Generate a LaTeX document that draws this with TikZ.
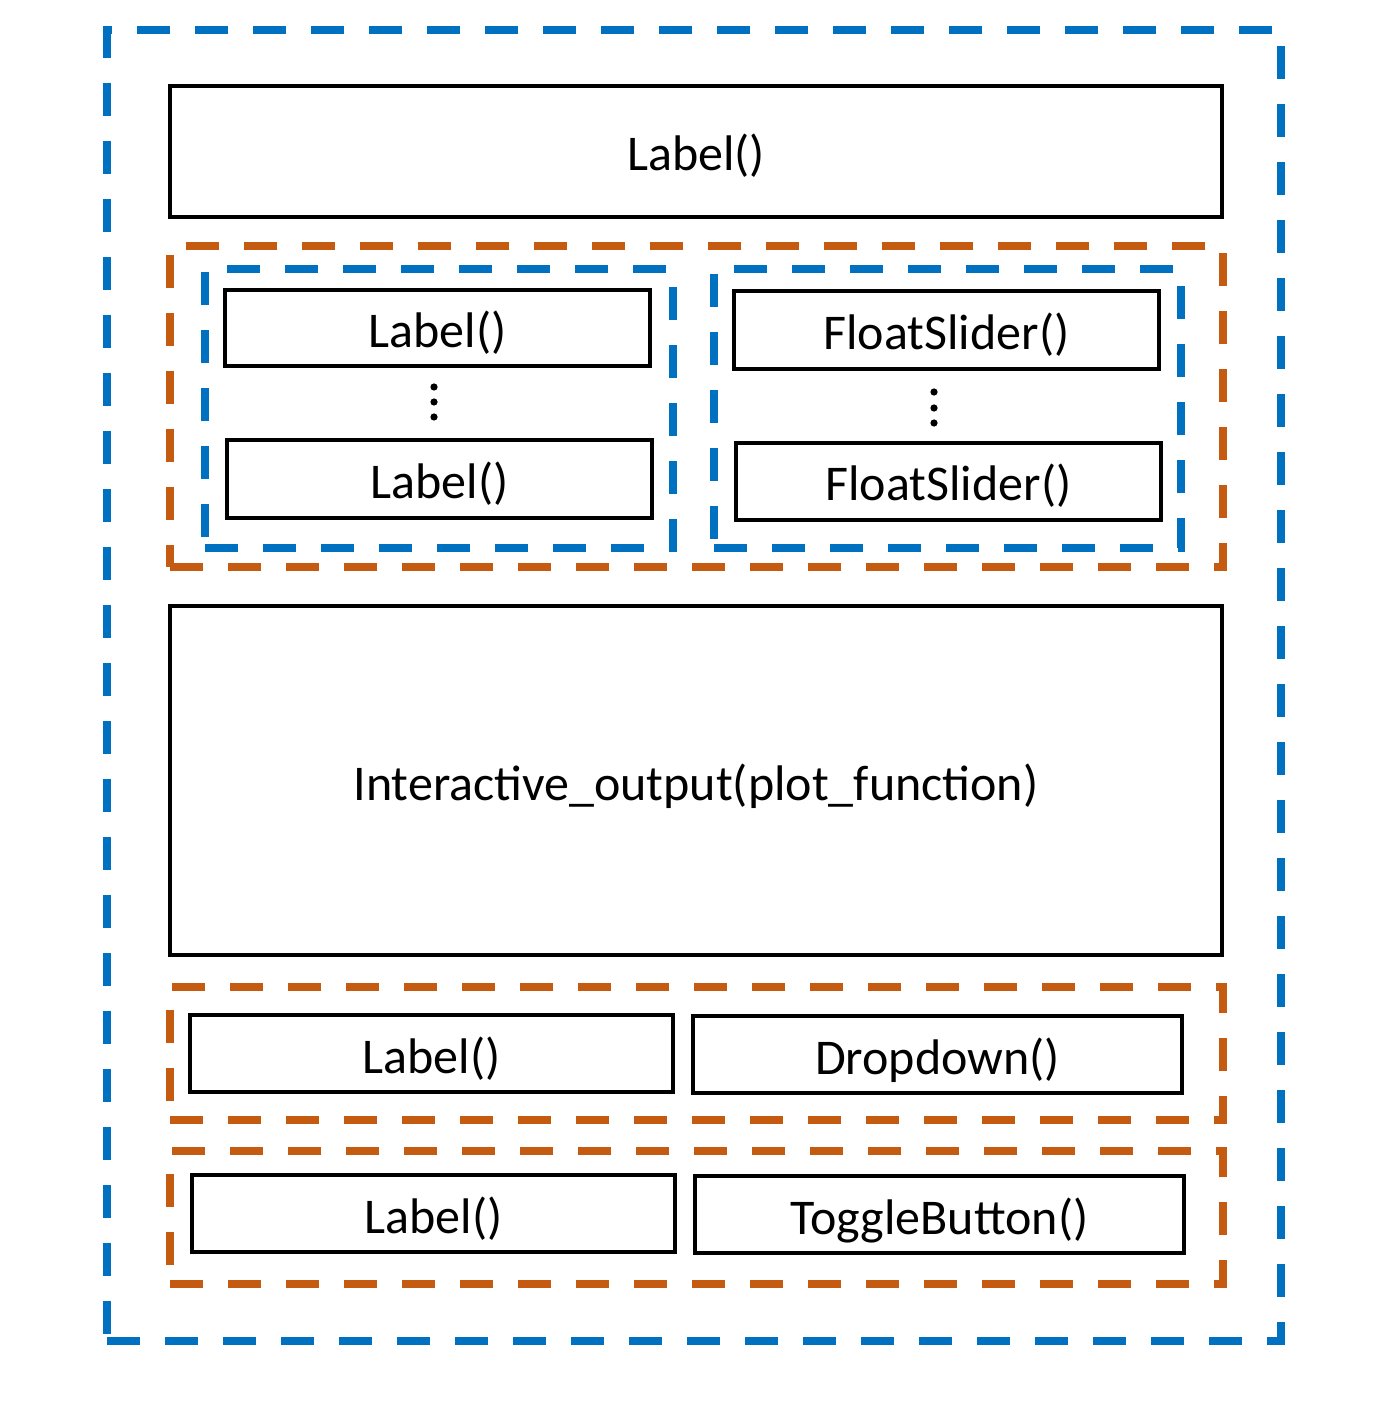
\documentclass[tikz,border=0pt]{standalone}
\usepackage{fontspec}
\setmainfont{Carlito}
\definecolor{dblue}{HTML}{0070C0}
\definecolor{dorange}{HTML}{C55A11}
\begin{document}
\begin{tikzpicture}[x=0.5pt,y=-0.5pt,
  box/.style={draw=black, line width=1.75pt, inner sep=0pt, font=\fontsize{25}{30}\selectfont, text height=22pt, text depth=2.5pt},
  grp/.style={rectangle, line width=4pt, dash pattern=on 16.5pt off 12.5pt, inner sep=0pt},
  bgroup/.style={grp, draw=dblue},
  ogroup/.style={grp, draw=dorange},
  vdot/.style={circle, fill=black, draw=none, inner sep=0pt, minimum size=3.6pt}]
\useasboundingbox (0,0) rectangle (1384,1416);
% outer container
\node[bgroup, minimum width=587pt, minimum height=655.5pt] (outer) at (694,685.5) {};
% top label
\node[box, minimum width=526pt, minimum height=65.5pt] (toplabel) at (696,151.5) {Label()};
% group 1
\node[ogroup, minimum width=526.5pt, minimum height=160.5pt] (g1) at (696.5,406.5) {};
\node[bgroup, minimum width=234pt, minimum height=139.5pt] (g1l) at (439,408.5) {};
\node[bgroup, minimum width=233.5pt, minimum height=139.5pt] (g1r) at (947.5,408.5) {};
\node[box, minimum width=212.5pt, minimum height=38pt] (l1) at (437.5,328) {Label()};
\node[box, minimum width=212.5pt, minimum height=39pt] (l2) at (439.5,479) {Label()};
\node[vdot] (dl1) at (434,387) {};
\node[vdot] (dl2) at (434,402) {};
\node[vdot] (dl3) at (434,417) {};
\node[box, minimum width=212.5pt, minimum height=39pt] (f1) at (946.5,330) {FloatSlider()};
\node[box, minimum width=212.5pt, minimum height=38.5pt] (f2) at (948.5,481.5) {FloatSlider()};
\node[vdot] (dr1) at (934,392) {};
\node[vdot] (dr2) at (934,408) {};
\node[vdot] (dr3) at (934,423) {};
% interactive output
\node[box, minimum width=526pt, minimum height=174.5pt] (io) at (696,780.5) {Interactive\_output(plot\_function)};
% group 2
\node[ogroup, minimum width=526.5pt, minimum height=66.5pt] (g2) at (696.5,1053.5) {};
\node[box, minimum width=241.5pt, minimum height=38.5pt] (l3) at (431.5,1053.5) {Label()};
\node[box, minimum width=244.5pt, minimum height=38.5pt] (dd) at (937.5,1054.5) {Dropdown()};
% group 3
\node[ogroup, minimum width=526.5pt, minimum height=66.5pt] (g3) at (696.5,1217.5) {};
\node[box, minimum width=241.5pt, minimum height=38.5pt] (l4) at (433.5,1213.5) {Label()};
\node[box, minimum width=244.5pt, minimum height=38.5pt] (tb) at (939.5,1214.5) {ToggleButton()};
\end{tikzpicture}
\end{document}
